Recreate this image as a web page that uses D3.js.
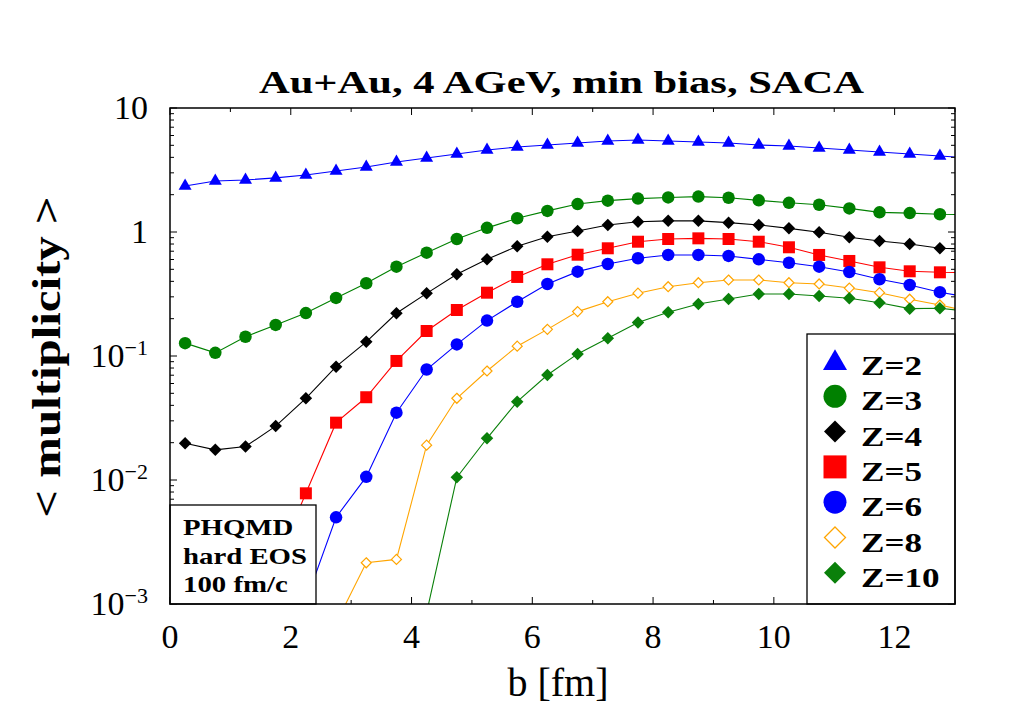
<!DOCTYPE html>
<html>
<head>
<meta charset="utf-8">
<script src="https://cdn.jsdelivr.net/npm/d3@7"></script>
<style>
  body { margin: 0; background: #fff; }
  svg { display: block; }
</style>
</head>
<body>
<svg id="chart"></svg>
<script>
// impact parameter bins (fm); last one sits outside the frame and is clipped
const bValues = [0.25, 0.75, 1.25, 1.75, 2.25, 2.75, 3.25, 3.75, 4.25, 4.75, 5.25, 5.75, 6.25,
  6.75, 7.25, 7.75, 8.25, 8.75, 9.25, 9.75, 10.25, 10.75, 11.25, 11.75, 12.25, 12.75, 13.25];

// <multiplicity> per charge (null = not plotted)
const z2 = [2.35, 2.58, 2.63, 2.73, 2.88, 3.10, 3.34, 3.67, 3.95, 4.26, 4.58, 4.85, 5.03,
  5.22, 5.42, 5.52, 5.42, 5.32, 5.22, 5.03, 4.94, 4.76, 4.58, 4.42, 4.26, 4.10, 3.95];
const z3 = [0.127, 0.106, 0.143, 0.178, 0.222, 0.294, 0.386, 0.525, 0.681, 0.878, 1.08, 1.29, 1.48,
  1.68, 1.79, 1.86, 1.90, 1.93, 1.89, 1.80, 1.72, 1.66, 1.55, 1.44, 1.42, 1.39, 1.38];
const z4 = [0.0198, 0.0175, 0.0186, 0.0272, 0.0456, 0.082, 0.130, 0.221, 0.320, 0.456, 0.602, 0.767, 0.917,
  1.02, 1.14, 1.21, 1.23, 1.23, 1.19, 1.14, 1.07, 0.995, 0.906, 0.846, 0.800, 0.739, 0.73];
const z5 = [null, null, null, 0.0021, 0.00781, 0.0290, 0.0465, 0.0912, 0.159, 0.235, 0.324, 0.434, 0.549,
  0.656, 0.739, 0.835, 0.878, 0.889, 0.878, 0.835, 0.753, 0.653, 0.584, 0.519, 0.482, 0.473, 0.47];
const z6 = [null, null, null, null, 0.00105, 0.0050, 0.0106, 0.0349, 0.0778, 0.124, 0.193, 0.274, 0.381,
  0.479, 0.552, 0.614, 0.653, 0.653, 0.641, 0.602, 0.565, 0.525, 0.476, 0.416, 0.374, 0.327, 0.296];
const z8 = [null, null, null, null, null, 0.0007, 0.00215, 0.00229, 0.0191, 0.0456, 0.0757, 0.120, 0.164,
  0.228, 0.274, 0.321, 0.362, 0.390, 0.410, 0.410, 0.390, 0.381, 0.353, 0.324, 0.287, 0.258, 0.227];
const z10 = [null, null, null, null, null, null, null, null, 0.00085, 0.0105, 0.0217, 0.0428, 0.0703,
  0.104, 0.139, 0.186, 0.225, 0.263, 0.288, 0.316, 0.316, 0.305, 0.292, 0.269, 0.241, 0.243, 0.228];

const seriesNames = ["Z=2", "Z=3", "Z=4", "Z=5", "Z=6", "Z=8", "Z=10"];

// axis ticks
const xTickValues = [0, 2, 4, 6, 8, 10, 12];
const yTickValues = [10, 1, 0.1, 0.01, 0.001];
const yTickBases = ["10", "1", "10", "10", "10"];
const yTickExponents = [null, null, "−1", "−2", "−3"];

const titleText = "Au+Au, 4 AGeV, min bias, SACA";
const infoLines = ["PHQMD", "hard EOS", "100 fm/c"];

const width = 1009, height = 714;
const pLeft = 170, pRight = 955, pTop = 108, pBottom = 604;
const serif = "'Liberation Serif', 'Times New Roman', serif";

const svg = d3.select("#chart").attr("width", width).attr("height", height);

const x = d3.scaleLinear().domain([0, 13]).range([pLeft, pRight]);
const y = d3.scaleLog().domain([1e-3, 10]).range([pBottom, pTop]);

// marker styles per series
const styles = [
  { color: "#0000ff", type: "triangle", fill: true },
  { color: "#008000", type: "circle", fill: true },
  { color: "#000000", type: "diamond", fill: true },
  { color: "#ff0000", type: "square", fill: true },
  { color: "#0000ff", type: "circle", fill: true },
  { color: "#ffa500", type: "diamond", fill: false },
  { color: "#0a800a", type: "diamond", fill: true },
];
const allValues = [z2, z3, z4, z5, z6, z8, z10];
const series = seriesNames.map((name, i) => ({
  name: name,
  style: styles[i],
  points: bValues.map((b, j) => ({ b: b, v: allValues[i][j] })).filter((p) => p.v != null),
}));

// w = visual width of the marker in px
function markerPath(type, w) {
  if (type === "circle") return d3.symbol(d3.symbolCircle, Math.PI * (w / 2) * (w / 2))();
  if (type === "square") return d3.symbol(d3.symbolSquare, w * w)();
  if (type === "triangle") return d3.symbol(d3.symbolTriangle, (Math.sqrt(3) / 4) * w * w)();
  // diamond = square turned 45 degrees
  const h = w / 2;
  return `M0,${-h}L${h},0L0,${h}L${-h},0Z`;
}
const plotSize = { triangle: 13, circle: 12.5, square: 12, diamond: 12.5 };

// bold serif text, widened a bit to look like the extended bold face of the original
function boldText(parent, transform, str, size, sx, anchor) {
  return parent.append("text")
    .attr("transform", `${transform} scale(${sx},1)`)
    .attr("text-anchor", anchor || "start")
    .style("font-family", serif)
    .style("font-weight", "bold")
    .style("font-size", size + "px")
    .text(str);
}

svg.append("defs").append("clipPath").attr("id", "plotclip")
  .append("rect")
  .attr("x", pLeft).attr("y", pTop)
  .attr("width", pRight - pLeft).attr("height", pBottom - pTop);

const plot = svg.append("g").attr("clip-path", "url(#plotclip)");

const line = d3.line().x((d) => x(d.b)).y((d) => y(d.v));

series.forEach((s) => {
  const g = plot.append("g");
  g.append("path")
    .attr("d", line(s.points))
    .attr("fill", "none")
    .attr("stroke", s.style.color)
    .attr("stroke-width", 1.1);

  const w = s.style.fill ? plotSize[s.style.type] : 10;
  g.selectAll("path.marker")
    .data(s.points)
    .enter()
    .append("path")
    .attr("class", "marker")
    .attr("transform", (d) => `translate(${x(d.b)},${y(d.v)})`)
    .attr("d", markerPath(s.style.type, w))
    .attr("fill", s.style.fill ? s.style.color : "#fff")
    .attr("stroke", s.style.fill ? "none" : s.style.color)
    .attr("stroke-width", 1.2);
});

// ticks, inward on all four sides
const tickG = svg.append("g").attr("stroke", "#000").attr("stroke-width", 1);
d3.range(0, 14).forEach((t) => {
  const len = t % 2 === 0 ? 7 : 4;
  tickG.append("line").attr("x1", x(t)).attr("x2", x(t)).attr("y1", pBottom).attr("y2", pBottom - len);
  tickG.append("line").attr("x1", x(t)).attr("x2", x(t)).attr("y1", pTop).attr("y2", pTop + len);
});
y.ticks().forEach((t) => {
  const major = Math.abs(Math.log10(t) - Math.round(Math.log10(t))) < 1e-6;
  const len = major ? 7 : 4;
  tickG.append("line").attr("x1", pLeft).attr("x2", pLeft + len).attr("y1", y(t)).attr("y2", y(t));
  tickG.append("line").attr("x1", pRight).attr("x2", pRight - len).attr("y1", y(t)).attr("y2", y(t));
});

// tick labels
svg.append("g")
  .selectAll("text")
  .data(xTickValues)
  .enter()
  .append("text")
  .attr("x", (d) => x(d))
  .attr("y", 648)
  .attr("text-anchor", "middle")
  .style("font-family", serif)
  .style("font-size", "34px")
  .text((d) => d);

const yLab = svg.append("g")
  .selectAll("text")
  .data(yTickValues)
  .enter()
  .append("text")
  .attr("x", 148)
  .attr("y", (d) => y(d) + 11)
  .attr("text-anchor", "end")
  .style("font-family", serif)
  .style("font-size", "34px");
yLab.append("tspan").text((d, i) => yTickBases[i]);
yLab.filter((d, i) => yTickExponents[i] != null)
  .append("tspan")
  .attr("dy", -12)
  .style("font-size", "22px")
  .text((d) => yTickExponents[yTickValues.indexOf(d)]);

// titles
boldText(svg, `translate(${(pLeft + pRight) / 2 - 1},93)`, titleText, 32, 1.33, "middle");

svg.append("text")
  .attr("x", 558)
  .attr("y", 696)
  .attr("text-anchor", "middle")
  .style("font-family", serif)
  .style("font-size", "40px")
  .text("b [fm]");

boldText(svg, "translate(60,357) rotate(-90)", "< multiplicity >", 40, 1.22, "middle");

// info box, lower left
svg.append("rect")
  .attr("x", pLeft).attr("y", 505)
  .attr("width", 316 - pLeft).attr("height", pBottom - 505)
  .attr("fill", "#fff").attr("stroke", "#000").attr("stroke-width", 1.3);
infoLines.forEach((t, i) => {
  boldText(svg, `translate(183,${535 + i * 28.5})`, t, 24, 1.2);
});

// legend box, lower right
svg.append("rect")
  .attr("x", 807).attr("y", 334)
  .attr("width", pRight - 807).attr("height", pBottom - 334)
  .attr("fill", "#fff").attr("stroke", "#000").attr("stroke-width", 1.3);

const legendSize = { triangle: 24, circle: 23, square: 23, diamond: 22 };
const legend = svg.append("g")
  .selectAll("g")
  .data(series)
  .enter()
  .append("g")
  .attr("transform", (d, i) => `translate(835,${365 + i * 35.3})`);
legend.append("path")
  .attr("transform", (d) => (d.style.type === "triangle" ? "translate(0,-2)" : "translate(0,-4)"))
  .attr("d", (d) => markerPath(d.style.type, d.style.fill ? legendSize[d.style.type] : 21))
  .attr("fill", (d) => (d.style.fill ? d.style.color : "#fff"))
  .attr("stroke", (d) => (d.style.fill ? "none" : d.style.color))
  .attr("stroke-width", 1.3);
legend.each(function (d) {
  boldText(d3.select(this), "translate(26,10)", d.name, 27, 1.3);
});

// frame
svg.append("rect")
  .attr("x", pLeft).attr("y", pTop)
  .attr("width", pRight - pLeft).attr("height", pBottom - pTop)
  .attr("fill", "none").attr("stroke", "#000").attr("stroke-width", 1.5);
</script>
</body>
</html>
